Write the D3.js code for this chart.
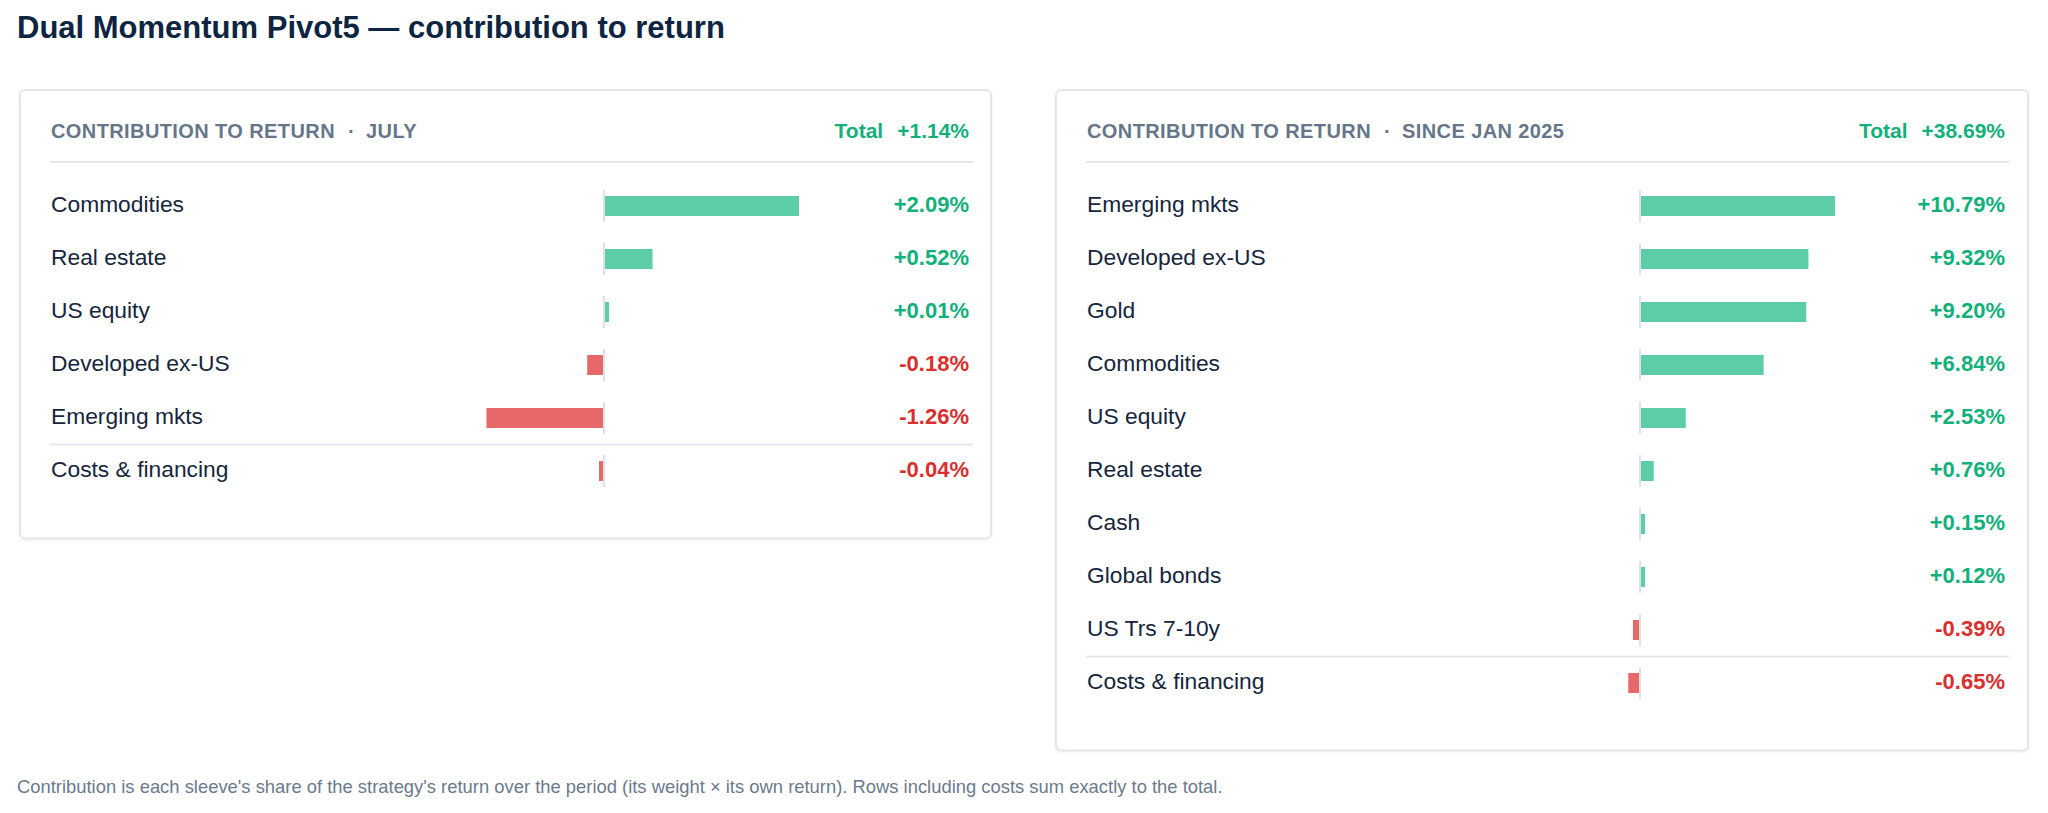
<!DOCTYPE html>
<html>
<head>
<meta charset="utf-8">
<script src="https://cdn.jsdelivr.net/npm/d3@7"></script>
<style>
  html, body { margin: 0; padding: 0; background: #fff; }
  svg { display: block; font-family: "Liberation Sans", Arial, Helvetica, sans-serif; }
</style>
</head>
<body>
<svg id="chart" width="2048" height="813"></svg>
<script>
// contribution to return, in % points; last row of each card is costs
var julyLabels = ["Commodities", "Real estate", "US equity", "Developed ex-US", "Emerging mkts", "Costs & financing"];
var julyValues = [2.09, 0.52, 0.01, -0.18, -1.26, -0.04];
var julyTotal = 1.14;

var sinceLabels = ["Emerging mkts", "Developed ex-US", "Gold", "Commodities", "US equity", "Real estate", "Cash", "Global bonds", "US Trs 7-10y", "Costs & financing"];
var sinceValues = [10.79, 9.32, 9.20, 6.84, 2.53, 0.76, 0.15, 0.12, -0.39, -0.65];
var sinceTotal = 38.69;

var periods = ["JULY", "SINCE JAN 2025"];

var svg = d3.select("#chart"),
    f2 = d3.format(".2f"),
    green = "#5ccda6", greenText = "#12b07a",
    red = "#e76868", redText = "#d9302f",
    rowH = 53, firstRow = 206, barH = 20, half = 195;

function pct(v) { return (v >= 0 ? "+" : "-") + f2(Math.abs(v)) + "%"; }

svg.append("text")
    .attr("x", 17).attr("y", 38)
    .attr("font-size", 31).attr("font-weight", "bold")
    .attr("fill", "#0e2541")
    .text("Dual Momentum Pivot5 \u2014 contribution to return");

var defs = svg.append("defs");
defs.append("filter").attr("id", "shadow")
    .attr("x", "-5%").attr("y", "-5%").attr("width", "110%").attr("height", "110%")
  .append("feDropShadow")
    .attr("dx", 0).attr("dy", 1).attr("stdDeviation", 1.5)
    .attr("flood-color", "#000").attr("flood-opacity", 0.06);

drawCard(20, 971, periods[0], julyLabels, julyValues, julyTotal);
drawCard(1056, 972, periods[1], sinceLabels, sinceValues, sinceTotal);

svg.append("text")
    .attr("x", 17).attr("y", 793)
    .attr("font-size", 18.4).attr("fill", "#6b7a8d")
    .text("Contribution is each sleeve's share of the strategy's return over the period (its weight \u00d7 its own return). Rows including costs sum exactly to the total.");

function drawCard(cx, cw, period, labels, values, total) {
  var n = labels.length,
      top = 90,
      ch = (firstRow - top) + (n - 1) * rowH + rowH / 2 + 41,
      left = cx + 30, right = cx + 953, valX = cx + 949,
      zero = cx + 584;

  var g = svg.append("g");

  g.append("rect")
      .attr("x", cx).attr("y", top)
      .attr("width", cw).attr("height", ch)
      .attr("rx", 5)
      .attr("fill", "#fff")
      .attr("stroke", "#e3e6ea").attr("stroke-width", 2)
      .attr("filter", "url(#shadow)");

  // header
  var head = g.append("text")
      .attr("x", cx + 31).attr("y", 138)
      .attr("font-size", 20).attr("font-weight", "bold")
      .attr("letter-spacing", 0.4)
      .attr("fill", "#66768a");
  head.append("tspan").text("CONTRIBUTION TO RETURN");
  head.append("tspan").attr("dx", 13).text("\u00b7");
  head.append("tspan").attr("dx", 11).text(period);

  var tot = g.append("text")
      .attr("x", valX).attr("y", 138)
      .attr("text-anchor", "end")
      .attr("font-size", 21).attr("font-weight", "bold")
      .attr("fill", total >= 0 ? greenText : redText);
  tot.append("tspan").text("Total");
  tot.append("tspan").attr("dx", 14).text(pct(total));

  g.append("line")
      .attr("x1", left).attr("x2", right)
      .attr("y1", 162).attr("y2", 162)
      .attr("stroke", "#e6e8eb").attr("stroke-width", 2);

  var maxAbs = d3.max(values, function(v) { return Math.abs(v); });
  var x = d3.scaleLinear()
      .domain([-maxAbs, maxAbs])
      .range([zero - half, zero + half]);

  var y = d3.scaleLinear()
      .domain([0, n - 1])
      .range([firstRow, firstRow + (n - 1) * rowH]);

  var rows = g.selectAll(".row")
      .data(values)
    .enter().append("g")
      .attr("class", "row")
      .attr("transform", function(d, i) { return "translate(0," + y(i) + ")"; });

  // costs row gets a divider on top
  rows.filter(function(d, i) { return i === n - 1; })
    .append("line")
      .attr("x1", left).attr("x2", right)
      .attr("y1", -rowH / 2).attr("y2", -rowH / 2)
      .attr("stroke", "#e6e8eb").attr("stroke-width", 2);

  rows.append("text")
      .attr("x", cx + 31).attr("y", 6)
      .attr("font-size", 22.8)
      .attr("fill", "#15263d")
      .text(function(d, i) { return labels[i]; });

  rows.append("rect")
      .attr("x", function(d) {
        var w = Math.max(5, Math.abs(x(d) - x(0)));
        return d >= 0 ? x(0) : x(0) - w;
      })
      .attr("y", -barH / 2)
      .attr("width", function(d) { return Math.max(5, Math.abs(x(d) - x(0))); })
      .attr("height", barH)
      .attr("fill", function(d) { return d >= 0 ? green : red; });

  rows.append("rect")
      .attr("x", x(0) - 1).attr("width", 2)
      .attr("y", -16).attr("height", 32)
      .attr("fill", "#dde0e4");

  rows.append("text")
      .attr("x", valX).attr("y", 6)
      .attr("text-anchor", "end")
      .attr("font-size", 22).attr("font-weight", "bold")
      .attr("fill", function(d) { return d >= 0 ? greenText : redText; })
      .text(function(d) { return pct(d); });
}
</script>
</body>
</html>
